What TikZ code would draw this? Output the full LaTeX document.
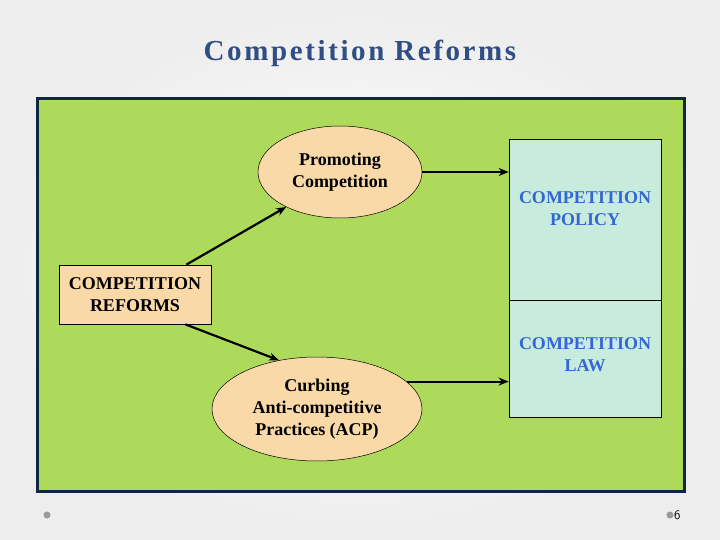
\documentclass[tikz,border=0pt]{standalone}
\usepackage{fontspec}
\setmainfont{Liberation Serif}
\newfontfamily\titlefont[LetterSpace=9]{Liberation Serif}
\usetikzlibrary{shapes.geometric,arrows.meta}
\definecolor{bggreen}{HTML}{AEDA5C}
\definecolor{navyb}{HTML}{0E2841}
\definecolor{peach}{HTML}{F9D9A8}
\definecolor{mint}{HTML}{C7EBDC}
\definecolor{bluetxt}{HTML}{3466D6}
\definecolor{titleblue}{HTML}{2F4E86}
\tikzset{
  oval/.style={ellipse, draw=black, line width=0.5pt, fill=peach, inner sep=0pt, align=center,
    font=\fontsize{18}{22}\selectfont\bfseries},
  pbox/.style={rectangle, draw=black, line width=0.7pt, fill=mint, inner sep=0pt},
  rbox/.style={rectangle, draw=black, line width=0.7pt, fill=peach, inner sep=0pt, align=center,
    font=\fontsize{18}{22}\selectfont\bfseries},
  btxt/.style={align=center, text=bluetxt, font=\fontsize{18}{22}\selectfont\bfseries},
  arr/.style={line width=2.2pt, -{Stealth[length=10pt,width=8pt]}},
  dot/.style={circle, fill=gray!80, inner sep=0pt, minimum size=7pt}
}
\begin{document}
\begin{tikzpicture}[x=1pt,y=-1pt]
\useasboundingbox (0,0) rectangle (720,540);
\shade[inner color=white, outer color=gray!14] (0,0) rectangle (720,540);
\node[font=\titlefont\fontsize{29}{32}\selectfont\bfseries, text=titleblue] (title) at (360,53) {Competition Reforms};
\draw[navyb, line width=3pt, fill=bggreen] (37,99) rectangle (684,491);
\node[oval, minimum width=164pt, minimum height=92pt] (prom) at (340,172) {Promoting\\Competition};
\node[oval, minimum width=210pt, minimum height=104pt] (curb) at (317,409) {Curbing\\Anti-competitive\\Practices (ACP)};
\node[rbox, minimum width=152pt, minimum height=59pt] (ref) at (135,294.5) {COMPETITION\\REFORMS};
\node[pbox, minimum width=152pt, minimum height=161pt] (pol) at (585,219.5) {};
\node[pbox, minimum width=152pt, minimum height=117pt] (law) at (585,358.5) {};
\node[btxt] (poltxt) at (585,209) {COMPETITION\\POLICY};
\node[btxt] (lawtxt) at (585,355) {COMPETITION\\LAW};
\draw[arr] ([xshift=-25pt]ref.north east) -- (prom.213);
\draw[arr] ([xshift=-26pt]ref.south east) -- (curb.128);
\draw[arr] (prom.east) -- (prom.east -| pol.west);
\draw[arr] (curb.17) -- (curb.17 -| law.west);
\node[dot] (d1) at (47,515) {};
\node[dot] (d2) at (670,515) {};
\node[font=\fontsize{13}{14}\selectfont\sffamily, anchor=west, inner sep=0pt] (pg) at (674,515) {6};
\end{tikzpicture}
\end{document}
